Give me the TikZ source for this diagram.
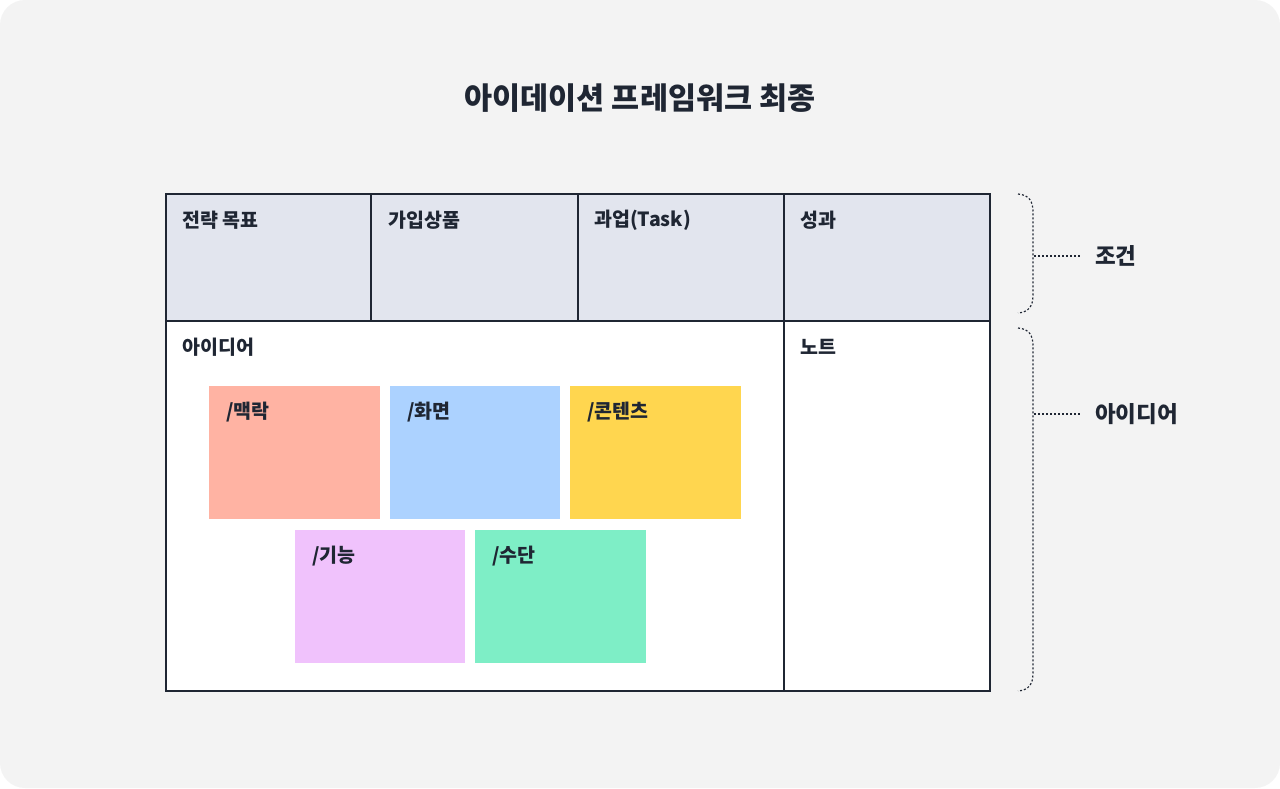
\documentclass[tikz,border=0pt]{standalone}
\usepackage{fontspec}
\setmainfont{Noto Sans CJK KR}
\usetikzlibrary{calc}
\definecolor{pagebg}{HTML}{F3F3F3}
\definecolor{ink}{HTML}{1F2633}
\definecolor{headfill}{HTML}{E2E5EE}
\definecolor{cSalmon}{HTML}{FFB3A3}
\definecolor{cBlue}{HTML}{ACD2FF}
\definecolor{cYellow}{HTML}{FFD64F}
\definecolor{cPink}{HTML}{F0C2FC}
\definecolor{cGreen}{HTML}{7EEEC6}
\tikzset{
  lab/.style={inner sep=0pt, anchor=west, text=ink, font=\fontsize{19.5}{23}\selectfont\bfseries},
  sidelab/.style={inner sep=0pt, anchor=west, text=ink, font=\fontsize{22.5}{26}\selectfont\bfseries},
  sticky/.style={draw=none, inner sep=0pt, anchor=north west, minimum width=171pt, minimum height=133pt},
  gridline/.style={draw=ink, line width=1.3pt},
  dotline/.style={draw=ink, line width=1.2pt, dash pattern=on 2pt off 2pt},
}
\begin{document}
\begin{tikzpicture}[x=1pt,y=-1pt]
\useasboundingbox (0,0) rectangle (1280,788);
\fill[white] (0,0) rectangle (1280,788);
\fill[pagebg, rounded corners=25pt] (0,0) rectangle (1280,788);

% title
\node[inner sep=0pt, text=ink, font=\fontsize{30.5}{36}\selectfont\bfseries] (title) at (640,98) {아이데이션 프레임워크 최종};

% table
\fill[headfill] (166,194) rectangle (990,321);
\fill[white] (166,321) rectangle (990,691);
\draw[gridline] (166,194) rectangle (990,691);
\draw[gridline] (166,321) -- (990,321);
\draw[gridline] (371,194) -- (371,321);
\draw[gridline] (578,194) -- (578,321);
\draw[gridline] (784,194) -- (784,691);

\node[lab] (h1) at (182,220) {전략 목표};
\node[lab] (h2) at (388,220) {가입상품};
\node[lab] (h3) at (594,220) {과업(Task)};
\node[lab] (h4) at (800,220) {성과};
\node[lab] (idea) at (182,347) {아이디어};
\node[lab] (note) at (800,347) {노트};

% sticky notes
\node[sticky, fill=cSalmon, minimum width=171pt] (s1) at (209,386) {};
\node[sticky, fill=cBlue, minimum width=170pt] (s2) at (390,386) {};
\node[sticky, fill=cYellow, minimum width=171pt] (s3) at (570,386) {};
\node[sticky, fill=cPink, minimum width=170pt] (s4) at (295,530) {};
\node[sticky, fill=cGreen, minimum width=171pt] (s5) at (475,530) {};
\node[lab] (t1) at ($(s1.north west)+(17,26)$) {/맥락};
\node[lab] (t2) at ($(s2.north west)+(17,26)$) {/화면};
\node[lab] (t3) at ($(s3.north west)+(17,26)$) {/콘텐츠};
\node[lab] (t4) at ($(s4.north west)+(17,26)$) {/기능};
\node[lab] (t5) at ($(s5.north west)+(17,26)$) {/수단};

% braces
\draw[dotline] (1018,194) .. controls (1029,195) and (1033,201) .. (1033,212) -- (1033,295) .. controls (1033,306) and (1029,312) .. (1018,313);
\draw[dotline] (1018,328) .. controls (1029,329) and (1033,335) .. (1033,346) -- (1033,673) .. controls (1033,684) and (1029,690) .. (1018,691);
\coordinate (b1) at (1034,256);
\coordinate (b2) at (1034,414);
\node[sidelab] (c1) at (1095,256) {조건};
\node[sidelab] (c2) at (1095,414) {아이디어};
\draw[dotline] (b1) -- ([xshift=-15pt]c1.west);
\draw[dotline] (b2) -- ([xshift=-15pt]c2.west);
\end{tikzpicture}
\end{document}
